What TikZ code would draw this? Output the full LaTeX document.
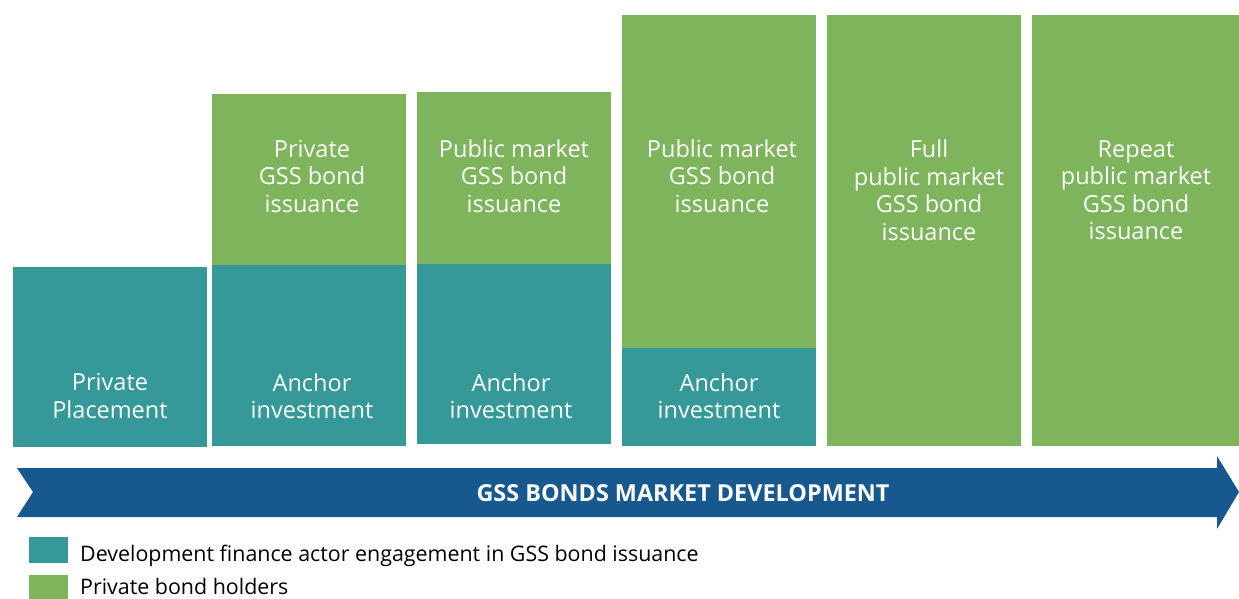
\documentclass[tikz,border=0pt]{standalone}
\usepackage{fontspec}
\setmainfont{Open Sans}
\definecolor{teal1}{RGB}{52,153,152}
\definecolor{green1}{RGB}{126,180,92}
\definecolor{blue1}{RGB}{23,89,143}
\begin{document}
\begin{tikzpicture}[x=1pt,y=-1pt,
  seg/.style={anchor=north west,inner sep=0pt,outer sep=0pt,minimum width=194pt},
  tealseg/.style={seg,fill=teal1},
  greenseg/.style={seg,fill=green1},
  boxtext/.style={text=white,align=center,font=\fontsize{23.5}{27.5}\selectfont,inner sep=0pt},
  legtext/.style={anchor=base west,font=\fontsize{21.4}{24}\selectfont,inner sep=0pt}]
\useasboundingbox (0,0) rectangle (1239,598);
% column 1
\node[tealseg,minimum height=180pt] (c1b) at (13,267) {};
% column 2
\node[greenseg,minimum height=171pt] (c2t) at (212,94) {};
\node[tealseg,minimum height=181pt] (c2b) at (212,265) {};
% column 3
\node[greenseg,minimum height=172pt] (c3t) at (417,92) {};
\node[tealseg,minimum height=180pt] (c3b) at (417,264) {};
% column 4
\node[greenseg,minimum height=333pt] (c4t) at (622,15) {};
\node[tealseg,minimum height=98pt] (c4b) at (622,348) {};
% column 5
\node[greenseg,minimum height=431pt] (c5t) at (827,15) {};
% column 6
\node[greenseg,minimum height=431pt,minimum width=207pt] (c6t) at (1032,15) {};
% texts
\node[boxtext] (t1) at (110,396) {Private\\Placement};
\node[boxtext] (t2a) at (312,176) {Private\\GSS bond\\issuance};
\node[boxtext] (t2b) at (312,396) {Anchor\\investment};
\node[boxtext] (t3a) at (514,176) {Public market\\GSS bond\\issuance};
\node[boxtext] (t3b) at (511,396) {Anchor\\investment};
\node[boxtext] (t4a) at (722,176) {Public market\\GSS bond\\issuance};
\node[boxtext] (t4b) at (719,396) {Anchor\\investment};
\node[boxtext] (t5a) at (929,190) {Full\\public market\\GSS bond\\issuance};
\node[boxtext] (t6a) at (1136,190) {Repeat\\public market\\GSS bond\\issuance};
% arrow
\fill[blue1] (17,468) -- (1217,468) -- (1217,456) -- (1239,492) -- (1217,529) -- (1217,517) -- (17,517) -- (33,492) -- cycle;
\node[text=white,font=\bfseries\fontsize{23.4}{26}\selectfont,inner sep=0pt] (arr) at (683,493) {GSS BONDS MARKET DEVELOPMENT};
% legend
\node[fill=teal1,anchor=north west,minimum width=39pt,minimum height=26pt,inner sep=0pt] (lg1) at (29,537) {};
\node[fill=green1,anchor=north west,minimum width=39pt,minimum height=26pt,inner sep=0pt] (lg2) at (29,575) {};
\node[legtext] (lt1) at (80,561) {Development finance actor engagement in GSS bond issuance};
\node[legtext] (lt2) at (80,594) {Private bond holders};
\end{tikzpicture}
\end{document}
